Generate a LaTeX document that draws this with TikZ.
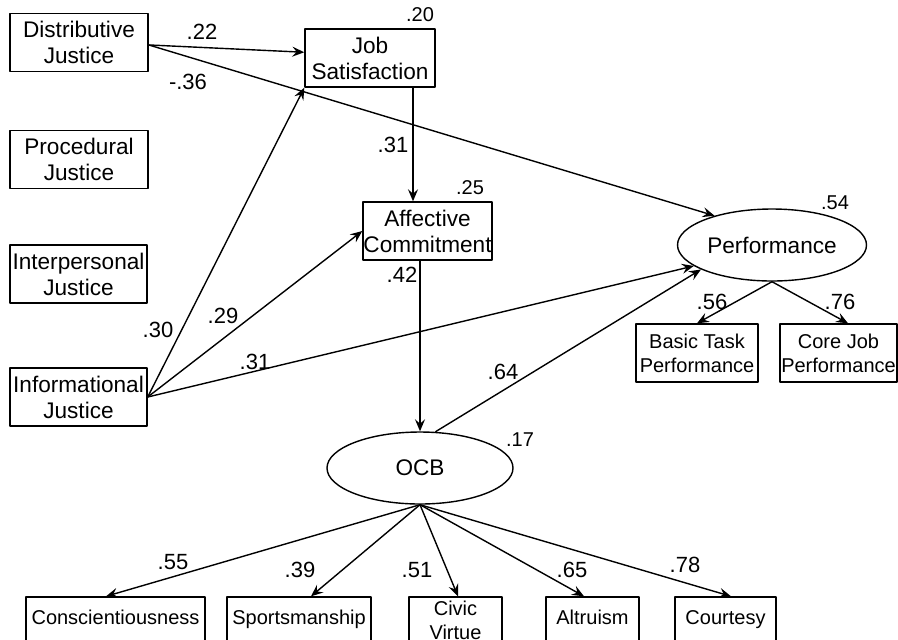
\documentclass[tikz,border=0pt]{standalone}
\usepackage{fontspec}
\setmainfont{Liberation Sans}
\usetikzlibrary{shapes.geometric,arrows.meta}
\tikzset{
	var/.style={draw, rectangle, align=center, inner sep=0pt, minimum height=29pt, font=\fontsize{11.3}{13}\selectfont},
	ind/.style={var, font=\fontsize{10}{12}\selectfont},
	occ/.style={ind, minimum height=23pt, execute at begin node=\strut},
	lat/.style={draw, ellipse, inner sep=0pt, font=\fontsize{11.3}{13}\selectfont},
	coef/.style={inner sep=0pt, font=\fontsize{11}{13}\selectfont},
	rsq/.style={inner sep=0pt, font=\fontsize{10}{12}\selectfont}
}
\begin{document}
\begin{tikzpicture}[x=0.5pt, y=-0.5pt, line width=0.7pt, line join=round, >={Stealth[length=6pt,width=5pt,inset=2.2pt]}]
	\useasboundingbox (0,0) rectangle (898,639);
	\clip (0,0) rectangle (898,639);
	% justice
	\node[var, minimum width=69pt] (dis) at (79,42.5) {Distributive\\Justice};
	\node[var, minimum width=69pt] (pro) at (79,159.5) {Procedural\\Justice};
	\node[var, minimum width=68.5pt] (int) at (78.5,274) {Interpersonal\\Justice};
	\node[var, minimum width=68.5pt] (inf) at (78.5,397) {Informational\\Justice};
	% mediators
	\node[var, minimum width=65pt] (js) at (370,58) {Job\\Satisfaction};
	\node[var, minimum width=64.5pt] (ac) at (427.5,231) {Affective\\Commitment};
	\node[lat, minimum width=94.5pt, minimum height=36pt] (perf) at (772,245) {Performance};
	\node[lat, minimum width=93pt, minimum height=36pt] (ocb) at (420,468) {OCB};
	% indicators
	\node[ind, minimum width=61pt] (bas) at (697,353) {Basic Task\\Performance};
	\node[ind, minimum width=58.5pt] (core) at (838.5,353) {Core Job\\Performance};
	\node[occ, minimum width=89.5pt] (con) at (115.5,620) {Conscientiousness};
	\node[occ, minimum width=72pt] (spo) at (299,620) {Sportsmanship};
	\node[ind, minimum width=46.5pt, minimum height=23pt] (civ) at (455.5,620) {Civic\\Virtue};
	\node[occ, minimum width=46.5pt] (alt) at (592.5,620) {Altruism};
	\node[occ, minimum width=50.5pt] (cou) at (725.5,620) {Courtesy};
	\coordinate (jsac) at (413,0);

	\draw[->] (dis.-2) -- (js.175);
	\draw[->] (dis.-2) -- (perf.153);
	\draw[->] (js.south -| jsac) -- (ac.north -| jsac);
	\draw[->] (ac.south -| ocb.north) -- (ocb.north);
	\draw[->] (inf.east) -- (js.south west);
	\draw[->] (inf.east) -- (ac.west);
	\draw[->] (inf.east) -- (perf.195);
	\draw[->] (ocb.67) -- (perf.199);
	\draw[->] (perf.south) -- (bas.north);
	\draw[->] (perf.south) -- ([xshift=4.75pt]core.north);
	\foreach \n/\s in {con/-4.75pt, spo/6pt, civ/1.25pt, alt/-4.25pt, cou/2.75pt}
		\draw[->] (ocb.south) -- ([xshift=\s]\n.north);

	% path coefficients
	\node[coef] (c22) at (202,32) {.22};
	\node[coef] (c36) at (188,82) {-.36};
	\node[coef] (c31a) at (393,145) {.31};
	\node[coef] (c42) at (402,275) {.42};
	\node[coef] (c30) at (158,330) {.30};
	\node[coef] (c29) at (223,316) {.29};
	\node[coef] (c31b) at (255,362) {.31};
	\node[coef] (c64) at (503,372) {.64};
	\node[coef] (c56) at (712,302) {.56};
	\node[coef] (c76) at (840,302) {.76};
	\node[coef] (c55) at (173,562) {.55};
	\node[coef] (c39) at (300,570) {.39};
	\node[coef] (c51) at (417,570) {.51};
	\node[coef] (c65) at (572,570) {.65};
	\node[coef] (c78) at (685,565) {.78};
	% explained variance
	\node[rsq] (r20) at (420,15) {.20};
	\node[rsq] (r25) at (470,188) {.25};
	\node[rsq] (r54) at (835,203) {.54};
	\node[rsq] (r17) at (520,440) {.17};
\end{tikzpicture}
\end{document}
